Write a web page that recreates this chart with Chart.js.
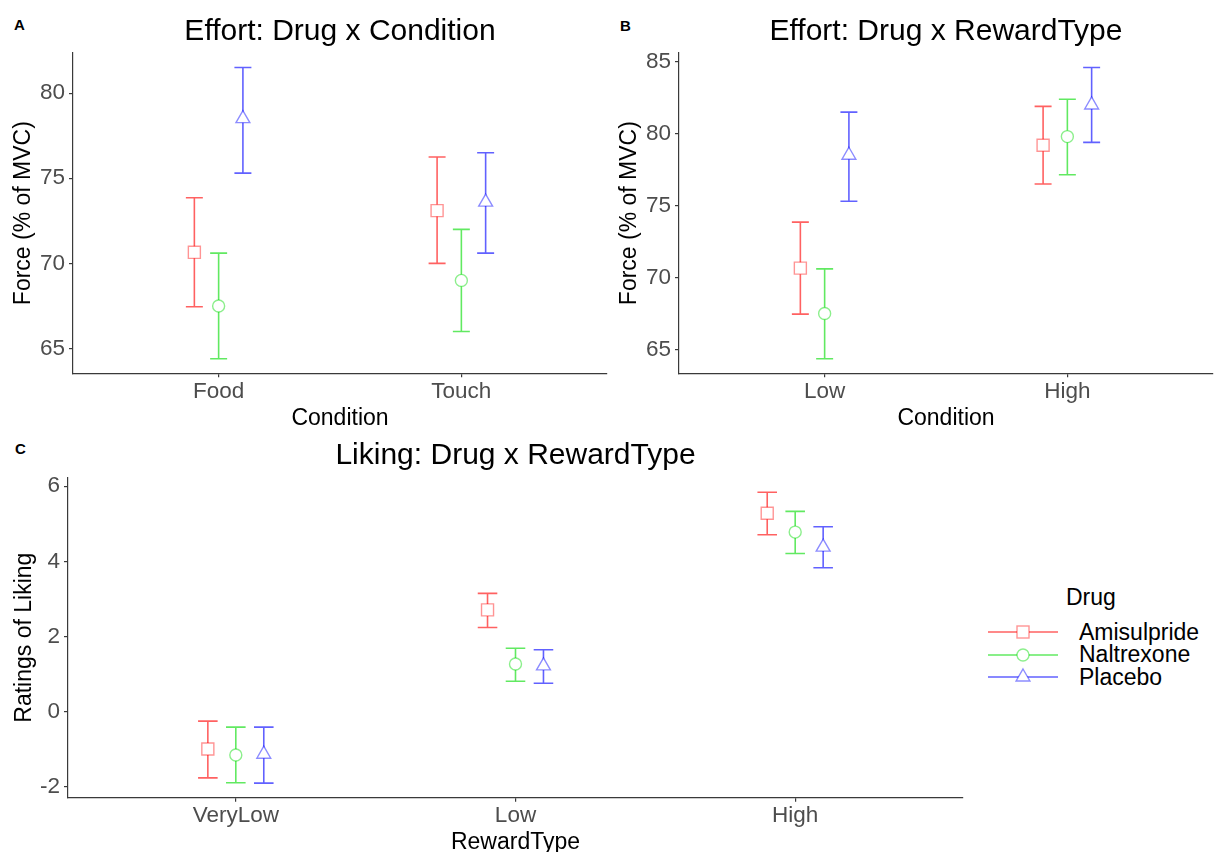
<!DOCTYPE html>
<html>
<head>
<meta charset="utf-8">
<title>Effort and Liking: Drug x Condition / RewardType</title>
<script src="https://cdn.jsdelivr.net/npm/chart.js@4.4.1/dist/chart.umd.min.js"></script>
<style>
  body {
    margin: 0;
    width: 1214px;
    height: 852px;
    position: relative;
    overflow: hidden;
    background: #fff;
    font-family: "Liberation Sans", Arial, Helvetica, sans-serif;
  }
  canvas { position: absolute; }
  .tag { position: absolute; font-weight: bold; font-size: 15px; line-height: 15px; color: #000; }
  .legend-title, .legend-label { position: absolute; font-size: 23px; line-height: 23px; color: #000; white-space: nowrap; }
  .legend-key { position: absolute; width: 70px; height: 14px; }
</style>
</head>
<body>
<div class="tag" style="left:14px; top:17px;">A</div>
<div class="tag" style="left:620px; top:18px;">B</div>
<div class="tag" style="left:15px; top:441px;">C</div>

<canvas id="panelA" width="610" height="430" style="left:0; top:0;"></canvas>
<canvas id="panelB" width="608" height="430" style="left:606px; top:0;"></canvas>
<canvas id="panelC" width="970" height="422" style="left:0; top:430px;"></canvas>

<div id="legend"></div>

<script>
const FONT = '"Liberation Sans", Arial, Helvetica, sans-serif';

// series shared by all panels
const drugs = ["Amisulpride", "Naltrexone", "Placebo"];
const drugColors = ["rgba(255,0,0,0.62)", "rgba(0,220,0,0.62)", "rgba(0,0,255,0.62)"];
const markerColors = ["rgba(255,0,0,0.42)", "rgba(0,220,0,0.45)", "rgba(0,0,255,0.45)"];
const markerStyles = ["rect", "circle", "triangle"];
const markerRadii = [8.5, 6, 8];
const dodge = [-0.1, 0, 0.1];

// A: Effort, Drug x Condition (rows = drugs, cols = categories)
const conditionLabels = ["Food", "Touch"];
const conditionMean = [[70.65, 73.1], [67.5, 69.0], [78.5, 73.6]];
const conditionLow = [[67.45, 70.0], [64.4, 66.0], [75.3, 70.6]];
const conditionHigh = [[73.85, 76.25], [70.6, 72.0], [81.5, 76.5]];
const conditionTicks = [65, 70, 75, 80];

// B: Effort, Drug x RewardType
const effortRewardLabels = ["Low", "High"];
const effortRewardMean = [[70.65, 79.2], [67.5, 79.8], [78.5, 82.0]];
const effortRewardLow = [[67.45, 76.5], [64.35, 77.15], [75.3, 79.4]];
const effortRewardHigh = [[73.85, 81.9], [70.6, 82.4], [81.5, 84.6]];
const effortRewardTicks = [65, 70, 75, 80, 85];

// C: Liking, Drug x RewardType
const likingLabels = ["VeryLow", "Low", "High"];
const likingMean = [[-0.99, 2.71, 5.28], [-1.15, 1.27, 4.78], [-1.13, 1.22, 4.38]];
const likingLow = [[-1.76, 2.24, 4.71], [-1.89, 0.81, 4.21], [-1.9, 0.76, 3.83]];
const likingHigh = [[-0.25, 3.15, 5.84], [-0.41, 1.69, 5.33], [-0.41, 1.65, 4.92]];
const likingTicks = [-2, 0, 2, 4, 6];

// errorbar width in category units, like geom_errorbar(width = ...)
const CAP_WIDTH = 0.07;

// draws the error bars under the markers, using the chart's own scales
const errorBars = {
  id: "errorBars",
  beforeDatasetsDraw(chart) {
    const { ctx } = chart;
    const x = chart.scales.x;
    const y = chart.scales.y;
    chart.data.datasets.forEach((ds) => {
      ds.data.forEach((pt, j) => {
        const px = x.getPixelForValue(pt.x);
        const half = x.getPixelForValue(pt.x + CAP_WIDTH / 2) - px;
        const top = y.getPixelForValue(ds.errHigh[j]);
        const bottom = y.getPixelForValue(ds.errLow[j]);
        ctx.save();
        ctx.strokeStyle = ds.barColor;
        ctx.lineWidth = 1.6;
        ctx.beginPath();
        ctx.moveTo(px, top);
        ctx.lineTo(px, bottom);
        ctx.moveTo(px - half, top);
        ctx.lineTo(px + half, top);
        ctx.moveTo(px - half, bottom);
        ctx.lineTo(px + half, bottom);
        ctx.stroke();
        ctx.restore();
      });
    });
  },
};

/**
 * Builds one ggplot-like panel: dodged points with error bars,
 * axis lines on the left and bottom only, no grid.
 */
function makePanel(id, p) {
  const values = p.low.flat().concat(p.high.flat());
  const lo = Math.min(...values);
  const hi = Math.max(...values);
  const expand = (hi - lo) * 0.05;

  const datasets = drugs.map((drug, i) => ({
    label: drug,
    data: p.categories.map((c, j) => ({ x: j + 1 + dodge[i], y: p.mean[i][j] })),
    errLow: p.low[i],
    errHigh: p.high[i],
    barColor: drugColors[i],
    showLine: false,
    pointStyle: markerStyles[i],
    pointRadius: markerRadii[i],
    pointBorderWidth: 1.4,
    pointBorderColor: markerColors[i],
    pointBackgroundColor: "#fff",
  }));

  const axisColor = "#3a3a3a";

  return new Chart(document.getElementById(id), {
    type: "scatter",
    data: { datasets },
    options: {
      responsive: false,
      animation: false,
      events: [],
      layout: { autoPadding: false, padding: { left: 0, right: p.padRight, top: 0, bottom: 0 } },
      plugins: {
        legend: { display: false },
        tooltip: { enabled: false },
        title: {
          display: true,
          text: p.title,
          fullSize: false,
          color: "#000",
          font: { family: FONT, size: 30, weight: "normal" },
          padding: { top: p.titlePad[0], bottom: p.titlePad[1] },
        },
      },
      scales: {
        x: {
          type: "linear",
          min: 0.4,
          max: p.categories.length + 0.6,
          afterBuildTicks: (s) => {
            s.ticks = p.categories.map((c, j) => ({ value: j + 1 }));
          },
          afterFit: (s) => { s.height = p.xHeight; },
          ticks: {
            callback: (v) => p.categories[Math.round(v) - 1],
            color: "#4d4d4d",
            font: { family: FONT, size: 22.5, lineHeight: 1 },
            padding: 3,
            maxRotation: 0,
            autoSkip: false,
          },
          grid: { drawOnChartArea: false, drawTicks: true, tickLength: 4, color: axisColor, lineWidth: 1.2 },
          border: { display: true, color: axisColor, width: 1.2 },
          title: {
            display: true,
            text: p.xTitle,
            color: "#000",
            font: { family: FONT, size: 23, lineHeight: 0.8 },
            padding: { top: 0, bottom: p.xTitlePad },
          },
        },
        y: {
          type: "linear",
          min: lo - expand,
          max: hi + expand,
          afterBuildTicks: (s) => {
            s.ticks = p.ticks.map((v) => ({ value: v }));
          },
          afterFit: (s) => { s.width = p.yWidth; },
          ticks: {
            color: "#4d4d4d",
            font: { family: FONT, size: 22.5, lineHeight: 1 },
            padding: 4,
          },
          grid: { drawOnChartArea: false, drawTicks: true, tickLength: 4, color: axisColor, lineWidth: 1.2 },
          border: { display: true, color: axisColor, width: 1.2 },
          title: {
            display: true,
            text: p.yTitle,
            color: "#000",
            font: { family: FONT, size: 23, lineHeight: 1 },
            padding: { top: p.yTitlePad, bottom: 0 },
          },
        },
      },
    },
    plugins: [errorBars],
  });
}

makePanel("panelA", {
  categories: conditionLabels,
  mean: conditionMean, low: conditionLow, high: conditionHigh,
  ticks: conditionTicks,
  title: "Effort: Drug x Condition",
  xTitle: "Condition",
  yTitle: "Force (% of MVC)",
  yWidth: 73, xHeight: 56.7, padRight: 3,
  titlePad: [13.3, 3.7], xTitlePad: 2.3, yTitlePad: 12.5,
});

makePanel("panelB", {
  categories: effortRewardLabels,
  mean: effortRewardMean, low: effortRewardLow, high: effortRewardHigh,
  ticks: effortRewardTicks,
  title: "Effort: Drug x RewardType",
  xTitle: "Condition",
  yTitle: "Force (% of MVC)",
  yWidth: 73, xHeight: 56.7, padRight: 1,
  titlePad: [13.3, 3.7], xTitlePad: 2.3, yTitlePad: 12.5,
});

makePanel("panelC", {
  categories: likingLabels,
  mean: likingMean, low: likingLow, high: likingHigh,
  ticks: likingTicks,
  title: "Liking: Drug x RewardType",
  xTitle: "RewardType",
  yTitle: "Ratings of Liking",
  yWidth: 68, xHeight: 54.3, padRight: 7,
  titlePad: [8, 3.7], xTitlePad: 0.3, yTitlePad: 13.5,
});

// legend for the Drug groups, line + marker like ggplot's key
function buildLegend() {
  const box = document.getElementById("legend");
  const rows = [632, 654.5, 677.3];
  let html = '<div class="legend-title" style="left:1066px; top:586px;">Drug</div>';
  drugs.forEach((drug, i) => {
    const cy = rows[i];
    let marker;
    if (markerStyles[i] === "rect") {
      marker = `<rect x="29" y="1" width="12" height="12" fill="#fff" stroke="${markerColors[i]}" stroke-width="1.4"/>`;
    } else if (markerStyles[i] === "circle") {
      marker = `<circle cx="35" cy="7" r="6" fill="#fff" stroke="${markerColors[i]}" stroke-width="1.4"/>`;
    } else {
      marker = `<polygon points="35,-1 41.9,11 28.1,11" fill="#fff" stroke="${markerColors[i]}" stroke-width="1.4"/>`;
    }
    html += `<svg class="legend-key" style="left:988px; top:${cy - 7}px; overflow:visible" viewBox="0 0 70 14">
      <line x1="0" y1="7" x2="70" y2="7" stroke="${drugColors[i]}" stroke-width="1.6"/>${marker}</svg>`;
    html += `<div class="legend-label" style="left:1079px; top:${cy - 11.2}px;">${drug}</div>`;
  });
  box.innerHTML = html;
}
buildLegend();
</script>
</body>
</html>
